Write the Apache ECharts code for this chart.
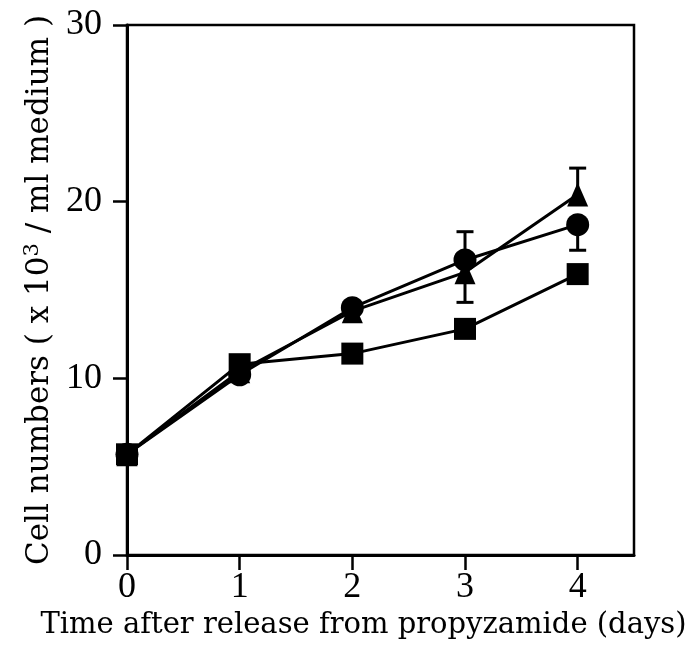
<!DOCTYPE html>
<html>
<head>
<meta charset="utf-8">
<script src="https://cdn.jsdelivr.net/npm/echarts@6/dist/echarts.min.js"></script>
<style>
  html, body { margin: 0; padding: 0; background: #fff; }
  #chart { width: 690px; height: 655px; }
</style>
</head>
<body>
<div id="chart"></div>
<script>
// Days after release, and cell counts (x10^3 / ml) for the three cultures
const days = [0, 1, 2, 3, 4];
const squares = [5.7, 10.8, 11.4, 12.8, 15.9];
const circles = [5.7, 10.2, 14.0, 16.7, 18.7];
const triangles = [5.7, 10.4, 13.8, 16.0, 20.4];

// One-sided error bars: [day, mean, bar end]
const circleErrors = [[3, 16.7, 18.3], [4, 18.7, 17.25]];
const triangleErrors = [[3, 16.0, 14.3], [4, 20.4, 21.9]];

const xTicks = [0, 1, 2, 3, 4];
const yTicks = [0, 10, 20, 30];

const TICK_FONT = 'Liberation Serif';
const TITLE_FONT = 'DejaVu Serif';

function pairs(ys) {
  return days.map((d, i) => [d, ys[i]]);
}

function errorBarItem(params, api) {
  const x = api.value(0);
  const p0 = api.coord([x, api.value(1)]);
  const p1 = api.coord([x, api.value(2)]);
  const half = 8.5;
  const style = { stroke: '#000', lineWidth: 3 };
  return {
    type: 'group',
    children: [
      { type: 'line', shape: { x1: p0[0], y1: p0[1], x2: p1[0], y2: p1[1] }, style: style },
      { type: 'line', shape: { x1: p1[0] - half, y1: p1[1], x2: p1[0] + half, y2: p1[1] }, style: style }
    ]
  };
}

function lineSeries(name, ys, symbol, size) {
  return {
    name: name,
    type: 'line',
    data: pairs(ys),
    symbol: symbol,
    symbolSize: size,
    showAllSymbol: true,
    lineStyle: { color: '#000', width: 3 },
    itemStyle: { color: '#000', borderWidth: 0 },
    z: 3
  };
}

const chart = echarts.init(document.getElementById('chart'), null, { renderer: 'canvas' });

chart.setOption({
  animation: false,
  backgroundColor: '#fff',
  grid: {
    left: 127, right: 56, top: 25, bottom: 100,
    outerBoundsMode: 'none',
    containLabel: false,
    show: true, borderColor: '#000', borderWidth: 2.5, backgroundColor: 'transparent'
  },
  xAxis: {
    type: 'value',
    min: 0, max: 4.5, interval: 1,
    splitLine: { show: false },
    axisLine: { onZero: false, lineStyle: { color: '#000', width: 3 } },
    axisTick: { length: 15, lineStyle: { color: '#000', width: 2.5 }, customValues: xTicks },
    axisLabel: {
      customValues: xTicks, margin: 15,
      fontFamily: TICK_FONT, fontSize: 36, color: '#000'
    },
    name: 'Time after release from propyzamide (days)',
    nameLocation: 'middle',
    nameGap: 50,
    nameTextStyle: { fontFamily: TITLE_FONT, fontSize: 29, color: '#000', padding: [0, 34, 0, 0] }
  },
  yAxis: {
    type: 'value',
    min: 0, max: 30, interval: 10,
    splitLine: { show: false },
    axisLine: { onZero: false, lineStyle: { color: '#000', width: 3 } },
    axisTick: { length: 14, lineStyle: { color: '#000', width: 2.5 }, customValues: yTicks },
    axisLabel: {
      customValues: yTicks, margin: 25,
      fontFamily: TICK_FONT, fontSize: 36, color: '#000'
    },
    name: '{t|Cell numbers ( x 10}{s|3}{t| / ml medium )}',
    nameLocation: 'middle',
    nameGap: 45,
    nameRotate: 90,
    nameTextStyle: {
      rich: {
        t: { fontFamily: TITLE_FONT, fontSize: 31, color: '#000' },
        s: { fontFamily: TITLE_FONT, fontSize: 21, color: '#000', verticalAlign: 'top', padding: [0, 0, 14, 0] }
      }
    }
  },
  series: [
    lineSeries('square', squares, 'rect', 22),
    lineSeries('circle', circles, 'circle', 23),
    lineSeries('triangle', triangles, 'triangle', [21, 24]),
    { type: 'custom', renderItem: errorBarItem, data: circleErrors, z: 2 },
    { type: 'custom', renderItem: errorBarItem, data: triangleErrors, z: 2 }
  ]
});
</script>
</body>
</html>
